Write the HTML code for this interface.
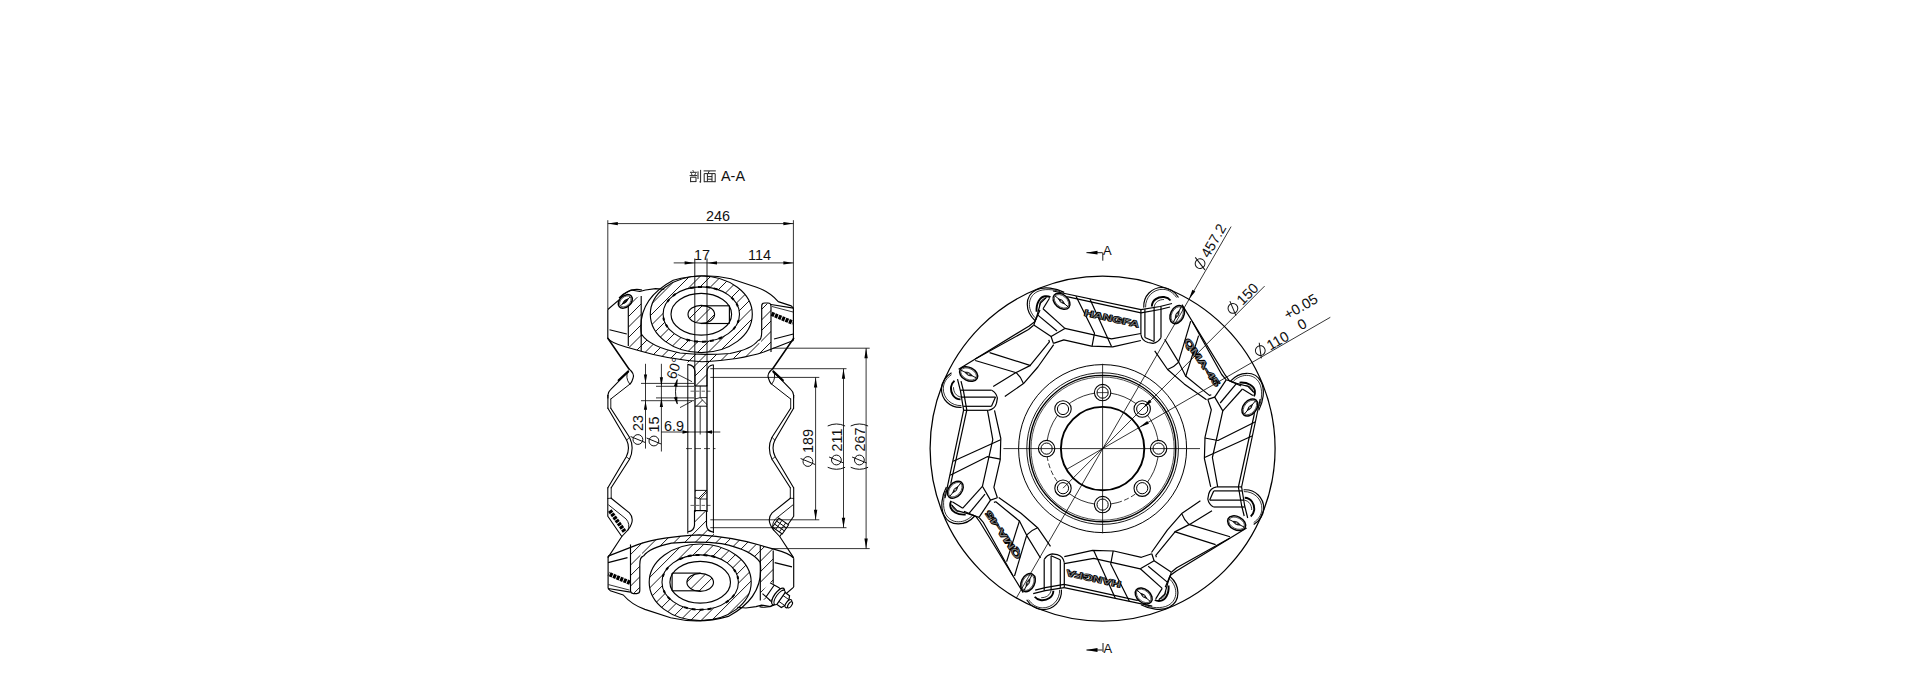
<!DOCTYPE html>
<html><head><meta charset="utf-8"><style>
html,body{margin:0;padding:0;background:#fff;}
svg{display:block;}
text{font-family:"Liberation Sans",sans-serif;}
</style></head><body>
<svg width="1920" height="694" viewBox="0 0 1920 694">
<rect width="1920" height="694" fill="#fff"/>
<circle cx="1102.6" cy="448.6" r="172.5" fill="none" stroke="#000" stroke-width="1.25" />
<circle cx="1102.6" cy="448.6" r="84" fill="none" stroke="#000" stroke-width="1" />
<circle cx="1102.6" cy="448.6" r="75.8" fill="none" stroke="#000" stroke-width="0.9" />
<circle cx="1102.6" cy="448.6" r="73.2" fill="none" stroke="#000" stroke-width="1.4" />
<circle cx="1102.6" cy="448.6" r="71.6" fill="none" stroke="#000" stroke-width="0.7" />
<path d="M 1142.2 488.2 A 56 56 0 1 0 1046.6 448.6" fill="none" stroke="#000" stroke-width="0.8"/>
<path d="M 1046.6 448.6 A 56 56 0 0 0 1063 488.2" fill="none" stroke="#000" stroke-width="0.8" stroke-dasharray="5 2.5"/>
<path d="M 1063 488.2 A 56 56 0 0 0 1117.09 502.69" fill="none" stroke="#000" stroke-width="0.8"/>
<path d="M 1117.09 502.69 A 56 56 0 0 0 1142.2 488.2" fill="none" stroke="#000" stroke-width="0.8" stroke-dasharray="5 2.5"/>
<circle cx="1102.6" cy="448.6" r="41.7" fill="none" stroke="#000" stroke-width="1.9" />
<circle cx="1158.6" cy="448.6" r="8.2" fill="#fff" stroke="#000" stroke-width="1.1" />
<circle cx="1158.6" cy="448.6" r="5.6" fill="none" stroke="#000" stroke-width="1" />
<circle cx="1142.2" cy="409" r="8.2" fill="#fff" stroke="#000" stroke-width="1.1" />
<circle cx="1142.2" cy="409" r="5.6" fill="none" stroke="#000" stroke-width="1" />
<circle cx="1102.6" cy="392.6" r="8.2" fill="#fff" stroke="#000" stroke-width="1.1" />
<circle cx="1102.6" cy="392.6" r="5.6" fill="none" stroke="#000" stroke-width="1" />
<line x1="1097" y1="392.6" x2="1108.2" y2="392.6" stroke="#000" stroke-width="0.7" />
<circle cx="1063" cy="409" r="8.2" fill="#fff" stroke="#000" stroke-width="1.1" />
<circle cx="1063" cy="409" r="5.6" fill="none" stroke="#000" stroke-width="1" />
<circle cx="1046.6" cy="448.6" r="8.2" fill="#fff" stroke="#000" stroke-width="1.1" />
<circle cx="1046.6" cy="448.6" r="5.6" fill="none" stroke="#000" stroke-width="1" />
<circle cx="1063" cy="488.2" r="8.2" fill="#fff" stroke="#000" stroke-width="1.1" />
<circle cx="1063" cy="488.2" r="5.6" fill="none" stroke="#000" stroke-width="1" />
<circle cx="1102.6" cy="504.6" r="8.2" fill="#fff" stroke="#000" stroke-width="1.1" />
<circle cx="1102.6" cy="504.6" r="5.6" fill="none" stroke="#000" stroke-width="1" />
<circle cx="1142.2" cy="488.2" r="8.2" fill="#fff" stroke="#000" stroke-width="1.1" />
<circle cx="1142.2" cy="488.2" r="5.6" fill="none" stroke="#000" stroke-width="1" />
<line x1="1003.4" y1="448.6" x2="1200" y2="448.6" stroke="#000" stroke-width="0.8" />
<line x1="1102.6" y1="363.8" x2="1102.6" y2="533.3" stroke="#000" stroke-width="0.8" />
<defs><g id="fsec"><polyline points="1053,291 1141,309.6" fill="none" stroke="#000" stroke-width="1.2" stroke-linejoin="round"/>
<polyline points="1068,296.9 1141,312.8" fill="none" stroke="#000" stroke-width="1.2" stroke-linejoin="round"/>
<polyline points="1076,296.2 1094.5,333.2 1092,346.4" fill="none" stroke="#000" stroke-width="1.2" stroke-linejoin="round"/>
<polyline points="1090,299.2 1111.5,346.6" fill="none" stroke="#000" stroke-width="1.2" stroke-linejoin="round"/>
<polyline points="1064.9,328.4 1111.5,338.8 1140.9,333.5" fill="none" stroke="#000" stroke-width="1.2" stroke-linejoin="round"/>
<polyline points="1053.4,343.4 1063.8,339.9 1091.4,346.2 1112.7,346.8 1140.9,340.5" fill="none" stroke="#000" stroke-width="1.2" stroke-linejoin="round"/>
<polyline points="1140.9,309.6 1140.9,334.5" fill="none" stroke="#000" stroke-width="1.2" stroke-linejoin="round"/>
<polyline points="1144.9,309.2 1144.9,337.5" fill="none" stroke="#000" stroke-width="1.2" stroke-linejoin="round"/>
<polyline points="1154.1,307.5 1154.1,341.5" fill="none" stroke="#000" stroke-width="1.2" stroke-linejoin="round"/>
<polyline points="1161,306.5 1161,337.6" fill="none" stroke="#000" stroke-width="1.2" stroke-linejoin="round"/>
<polyline points="1141,309.6 1160,306.5 1172,303.5" fill="none" stroke="#000" stroke-width="1.2" stroke-linejoin="round"/>
<polyline points="1141,312.8 1160,309.5 1170,307" fill="none" stroke="#000" stroke-width="1.2" stroke-linejoin="round"/>
<path d="M 1140.9 334.5 Q 1142 341 1148 342.5 L 1153 343.4 Q 1158.5 342.5 1161 337.6" fill="none" stroke="#000" stroke-width="1.2" stroke-linejoin="round"/>
<path d="M 1144.9 337.5 L 1154.1 341.5" fill="none" stroke="#000" stroke-width="1.2" stroke-linejoin="round"/>
<path d="M1143.8 307.6 C1143 296 1152 287 1163 287.5 C1170 288 1175 292 1178.5 297.5" fill="none" stroke="#000" stroke-width="1.2" stroke-linejoin="round"/>
<path d="M1145.6 307.4 C1145.2 297.5 1153 289 1163 289.3 C1169 289.6 1173.5 293 1176.5 297.5" fill="none" stroke="#000" stroke-width="0.8" stroke-linejoin="round"/>
<path d="M1151.8 306.5 C1152 300 1158 296.5 1164 297 C1167 297.5 1169 298.5 1170.5 300.5" fill="none" stroke="#000" stroke-width="1.9" stroke-linejoin="round"/>
<path d="M1154.1 307 C1155 302 1159 299.5 1164 299.5" fill="none" stroke="#000" stroke-width="0.8" stroke-linejoin="round"/>
<g transform="translate(1177.2 314.6) rotate(-63)"><ellipse cx="0" cy="0" rx="9.6" ry="6.6" fill="#fff" stroke="#000" stroke-width="1.5"/><ellipse cx="0" cy="0" rx="8.3" ry="5.4" fill="none" stroke="#000" stroke-width="0.6"/><line x1="-8.6" y1="0" x2="8.6" y2="0" stroke="#000" stroke-width="0.9"/><path d="M-4 0 Q0 -2.6 4 0 Q0 2.6 -4 0Z" fill="#333" stroke="#000" stroke-width="0.7"/><circle cx="0" cy="0" r="0.9" fill="#aaa"/></g>
<path d="M1035.2 320.7 C1025 312 1024 296 1036 290 C1044 286 1056 288 1064.2 292.4" fill="none" stroke="#000" stroke-width="1.2" stroke-linejoin="round"/>
<path d="M1036.6 319.2 C1027.2 311 1026.6 297.5 1037 291.8 C1044 288.2 1054 289.6 1060 291.6" fill="none" stroke="#000" stroke-width="0.8" stroke-linejoin="round"/>
<path d="M1036.6 311.7 C1036 303 1040 297 1045 296.3 C1047 296 1049 296.5 1050.4 297.2" fill="none" stroke="#000" stroke-width="1.9" stroke-linejoin="round"/>
<path d="M1039.4 306.2 C1039.8 301 1042 298.6 1046 298.4" fill="none" stroke="#000" stroke-width="0.8" stroke-linejoin="round"/>
<polyline points="1046.5,297.3 1040.5,303 1037.3,314.6 1033.8,325" fill="none" stroke="#000" stroke-width="1.2" stroke-linejoin="round"/>
<polyline points="1049.5,298.3 1043,308.8" fill="none" stroke="#000" stroke-width="1.2" stroke-linejoin="round"/>
<polyline points="1043,308.8 1064.9,328.4" fill="none" stroke="#000" stroke-width="1.2" stroke-linejoin="round"/>
<polyline points="1037.3,314.6 1057,331" fill="none" stroke="#000" stroke-width="1.2" stroke-linejoin="round"/>
<polyline points="1033.8,325 1051.1,336.5" fill="none" stroke="#000" stroke-width="1.2" stroke-linejoin="round"/>
<polyline points="1064.9,328.4 1051.1,336.5 1053.4,343.4" fill="none" stroke="#000" stroke-width="1.2" stroke-linejoin="round"/>
<polyline points="1060,297 1068,296.9" fill="none" stroke="#000" stroke-width="1.2" stroke-linejoin="round"/>
<g transform="translate(1061.5 301.3) rotate(40)"><ellipse cx="0" cy="0" rx="9.6" ry="6.6" fill="#fff" stroke="#000" stroke-width="1.5"/><ellipse cx="0" cy="0" rx="8.3" ry="5.4" fill="none" stroke="#000" stroke-width="0.6"/><line x1="-8.6" y1="0" x2="8.6" y2="0" stroke="#000" stroke-width="0.9"/><path d="M-4 0 Q0 -2.6 4 0 Q0 2.6 -4 0Z" fill="#333" stroke="#000" stroke-width="0.7"/><circle cx="0" cy="0" r="0.9" fill="#aaa"/></g>
<polyline points="958.6,369.2 1029.2,325.9 1035,321.6 1040,310" fill="none" stroke="#000" stroke-width="1.2" stroke-linejoin="round"/>
<polyline points="975.2,359.1 1028.5,329.5 1033.6,325.2" fill="none" stroke="#000" stroke-width="1.2" stroke-linejoin="round"/>
<polyline points="989.6,352.6 1030.7,365.6" fill="none" stroke="#000" stroke-width="1.2" stroke-linejoin="round"/>
<polyline points="975.2,360.5 1016.3,372.8" fill="none" stroke="#000" stroke-width="1.2" stroke-linejoin="round"/>
<polyline points="993.2,386.5 1015.6,372.8 1030,365.6 1049.4,341.8 1048.8,339.9" fill="none" stroke="#000" stroke-width="1.2" stroke-linejoin="round"/>
<polyline points="1004.8,396.5 1023.5,383.6 1037.9,367 1053.7,344.7" fill="none" stroke="#000" stroke-width="1.2" stroke-linejoin="round"/>
<path d="M 1016.3 372.8 Q 1021 377 1023.5 383.6" fill="none" stroke="#000" stroke-width="1.2" stroke-linejoin="round"/></g></defs>
<use href="#fsec" transform="rotate(0 1102.6 448.6)"/>
<use href="#fsec" transform="rotate(90 1102.6 448.6)"/>
<use href="#fsec" transform="rotate(180 1102.6 448.6)"/>
<use href="#fsec" transform="rotate(270 1102.6 448.6)"/>
<text x="1111" y="321.5" font-size="8.8" font-weight="bold" fill="#000" stroke="#000" stroke-width="1.2" stroke-linejoin="round" textLength="56" lengthAdjust="spacingAndGlyphs" text-anchor="middle" transform="rotate(12.3 1111 321.5)">HANGFA</text>
<text x="1111" y="321.5" font-size="8.8" font-weight="normal" fill="#fff" fill-opacity="0.5" textLength="56" lengthAdjust="spacingAndGlyphs" text-anchor="middle" transform="rotate(12.3 1111 321.5)">HANGFA</text>
<text x="1199.5" y="364.1" font-size="8.8" font-weight="bold" fill="#000" stroke="#000" stroke-width="1.2" stroke-linejoin="round" textLength="56" lengthAdjust="spacingAndGlyphs" text-anchor="middle" transform="rotate(55.5 1199.5 364.1)">QMA-45</text>
<text x="1199.5" y="364.1" font-size="8.8" font-weight="normal" fill="#fff" fill-opacity="0.5" textLength="56" lengthAdjust="spacingAndGlyphs" text-anchor="middle" transform="rotate(55.5 1199.5 364.1)">QMA-45</text>
<text x="1094.2" y="575.7" font-size="8.8" font-weight="bold" fill="#000" stroke="#000" stroke-width="1.2" stroke-linejoin="round" textLength="56" lengthAdjust="spacingAndGlyphs" text-anchor="middle" transform="rotate(192.3 1094.2 575.7)">HANGFA</text>
<text x="1094.2" y="575.7" font-size="8.8" font-weight="normal" fill="#fff" fill-opacity="0.5" textLength="56" lengthAdjust="spacingAndGlyphs" text-anchor="middle" transform="rotate(192.3 1094.2 575.7)">HANGFA</text>
<text x="1005.7" y="533.1" font-size="8.8" font-weight="bold" fill="#000" stroke="#000" stroke-width="1.2" stroke-linejoin="round" textLength="56" lengthAdjust="spacingAndGlyphs" text-anchor="middle" transform="rotate(235.5 1005.7 533.1)">QMA-45</text>
<text x="1005.7" y="533.1" font-size="8.8" font-weight="normal" fill="#fff" fill-opacity="0.5" textLength="56" lengthAdjust="spacingAndGlyphs" text-anchor="middle" transform="rotate(235.5 1005.7 533.1)">QMA-45</text>
<line x1="1016.35" y1="597.99" x2="1231.1" y2="226.6" stroke="#000" stroke-width="0.8" />
<polygon points="1188.85,299.21 1192.38,289.7 1195.32,291.4" fill="#000"/>
<line x1="1063" y1="488.2" x2="1264.6" y2="286.1" stroke="#000" stroke-width="0.8" />
<polygon points="1143.26,407.94 1149.13,399.67 1151.53,402.07" fill="#000"/>
<line x1="1066.49" y1="469.45" x2="1330.3" y2="317.3" stroke="#000" stroke-width="0.8" />
<polygon points="1139.41,427.35 1147.22,420.88 1148.92,423.82" fill="#000"/>
<g transform="translate(1202 270.5) rotate(-60)"><circle cx="5" cy="-5.1" r="4.9" fill="none" stroke="#111" stroke-width="1"/><line x1="8" y1="-12.4" x2="2" y2="2.2" stroke="#111" stroke-width="1"/><text x="13.5" y="0" font-size="14.4" fill="#111">457.2</text></g>
<g transform="translate(1233 315.5) rotate(-45)"><circle cx="5" cy="-5.1" r="4.9" fill="none" stroke="#111" stroke-width="1"/><line x1="8" y1="-12.4" x2="2" y2="2.2" stroke="#111" stroke-width="1"/><text x="13.5" y="0" font-size="14.4" fill="#111">150</text></g>
<g transform="translate(1258.5 357.5) rotate(-30)"><circle cx="5" cy="-5.1" r="4.9" fill="none" stroke="#111" stroke-width="1"/><line x1="8" y1="-12.4" x2="2" y2="2.2" stroke="#111" stroke-width="1"/><text x="13.5" y="0" font-size="14.4" fill="#111">110</text></g>
<g transform="translate(1301 330.5) rotate(-30)"><text x="0" y="0" font-size="14.4" fill="#111">0</text></g>
<g transform="translate(1287.5 320) rotate(-30)"><text x="0" y="0" font-size="14.4" fill="#111">+0.05</text></g>
<line x1="1086.5" y1="252.7" x2="1102.5" y2="252.7" stroke="#000" stroke-width="0.9" />
<polygon points="1086,252.7 1097.5,250.8 1097.5,254.6" fill="#000"/>
<line x1="1102.8" y1="252.7" x2="1102.8" y2="260.7" stroke="#000" stroke-width="0.9" />
<text x="1103" y="254.8" font-size="13" text-anchor="start" font-weight="normal" fill="#111" >A</text>
<line x1="1086.5" y1="650" x2="1102.5" y2="650" stroke="#000" stroke-width="0.9" />
<polygon points="1086,650 1097.5,648.1 1097.5,651.9" fill="#000"/>
<line x1="1103" y1="643" x2="1103" y2="652" stroke="#000" stroke-width="0.9" />
<text x="1103.5" y="652.5" font-size="13" text-anchor="start" font-weight="normal" fill="#111" >A</text>
<text x="721" y="181.4" font-size="14.4" text-anchor="start" font-weight="normal" fill="#111" >A-A</text>
<line x1="692.8" y1="170.2" x2="693.6" y2="171.6" stroke="#222" stroke-width="1.0"/>
<line x1="690" y1="172.3" x2="696.8" y2="172.3" stroke="#222" stroke-width="1.0"/>
<line x1="691.4" y1="173.3" x2="692" y2="175" stroke="#222" stroke-width="1.0"/>
<line x1="695.6" y1="173.3" x2="694.8" y2="175" stroke="#222" stroke-width="1.0"/>
<line x1="689.6" y1="175.6" x2="697.2" y2="175.6" stroke="#222" stroke-width="1.0"/>
<line x1="690.6" y1="177.2" x2="690.6" y2="182.2" stroke="#222" stroke-width="1.0"/>
<line x1="690.6" y1="177.2" x2="696" y2="177.2" stroke="#222" stroke-width="1.0"/>
<line x1="696" y1="177.2" x2="696" y2="182" stroke="#222" stroke-width="1.0"/>
<line x1="690.6" y1="181.6" x2="696" y2="181.6" stroke="#222" stroke-width="1.0"/>
<line x1="698" y1="171.4" x2="698" y2="179" stroke="#222" stroke-width="1.0"/>
<line x1="700.6" y1="169.9" x2="700.6" y2="182.4" stroke="#222" stroke-width="1.0"/>
<line x1="700.6" y1="182.4" x2="699.4" y2="181.8" stroke="#222" stroke-width="1.0"/>
<line x1="703.6" y1="170.9" x2="715.8" y2="170.9" stroke="#222" stroke-width="1.0"/>
<line x1="709.2" y1="171" x2="708.2" y2="173.4" stroke="#222" stroke-width="1.0"/>
<line x1="704.2" y1="173.6" x2="704.2" y2="182.2" stroke="#222" stroke-width="1.0"/>
<line x1="704.2" y1="173.6" x2="715.2" y2="173.6" stroke="#222" stroke-width="1.0"/>
<line x1="715.2" y1="173.6" x2="715.2" y2="182.2" stroke="#222" stroke-width="1.0"/>
<line x1="704.2" y1="181.7" x2="715.2" y2="181.7" stroke="#222" stroke-width="1.0"/>
<line x1="707.4" y1="173.8" x2="707.4" y2="181.6" stroke="#222" stroke-width="1.0"/>
<line x1="712" y1="173.8" x2="712" y2="181.6" stroke="#222" stroke-width="1.0"/>
<line x1="707.4" y1="176.6" x2="712" y2="176.6" stroke="#222" stroke-width="1.0"/>
<line x1="707.4" y1="179.2" x2="712" y2="179.2" stroke="#222" stroke-width="1.0"/>
<line x1="607.8" y1="220.2" x2="607.8" y2="309.5" stroke="#000" stroke-width="0.8" />
<line x1="793.4" y1="220.2" x2="793.4" y2="308" stroke="#000" stroke-width="0.8" />
<line x1="607.8" y1="223.6" x2="793.4" y2="223.6" stroke="#000" stroke-width="0.8" />
<polygon points="607.8,223.6 617.8,221.9 617.8,225.3" fill="#000"/>
<polygon points="793.4,223.6 783.4,225.3 783.4,221.9" fill="#000"/>
<g transform="translate(706 221) rotate(0)"><text x="0" y="0" font-size="14.4" fill="#111">246</text></g>
<line x1="694.8" y1="258.5" x2="694.8" y2="386" stroke="#000" stroke-width="0.9" />
<line x1="707" y1="258.5" x2="707" y2="386" stroke="#000" stroke-width="0.9" />
<line x1="673.7" y1="262.9" x2="793.4" y2="262.9" stroke="#000" stroke-width="0.8" />
<polygon points="694.6,262.9 684.6,264.6 684.6,261.2" fill="#000"/>
<polygon points="707,262.9 717,261.2 717,264.6" fill="#000"/>
<polygon points="793.4,262.9 783.4,264.6 783.4,261.2" fill="#000"/>
<g transform="translate(694 259.9) rotate(0)"><text x="0" y="0" font-size="14.4" fill="#111">17</text></g>
<g transform="translate(748 259.9) rotate(0)"><text x="0" y="0" font-size="14.4" fill="#111">114</text></g>
<g id="rollTop"><clipPath id="hclip"><path clip-rule="evenodd" d="M650.3 314.3A51 38.3 0 1 0 752.3 314.3A51 38.3 0 1 0 650.3 314.3Z M663.1 314.3A38.2 27.4 0 1 0 739.5 314.3A38.2 27.4 0 1 0 663.1 314.3Z"/><path d="M688 314.3A13.3 9 0 1 0 714.6 314.3A13.3 9 0 1 0 688 314.3Z"/><path d="M641.5 334.3 Q650 347 680 353 Q702 355.6 730 353.5 Q752 349 758 340.5 L763.8 352 Q740 360 702 361.7 Q668 360 641.2 351.3 L626.8 347 Z"/><path d="M628.3 299.4 L641.2 296 L641.2 351.3 L628.3 346 Z"/><path d="M761.7 303 L771 304 L771 352 L758 354 Q761.7 345 761.7 331.9 Z"/><path d="M687.6 356 L713.5 356 L713.5 364.8 Q707.4 365.5 707 371.5 L707 386 L695 386 L695 371.5 Q694.6 365.2 687.6 364.4 Z"/></clipPath>
<path clip-path="url(#hclip)" d="M461 400L591 270M471.5 400L601.5 270M482 400L612 270M492.5 400L622.5 270M503 400L633 270M513.5 400L643.5 270M524 400L654 270M534.5 400L664.5 270M545 400L675 270M555.5 400L685.5 270M566 400L696 270M576.5 400L706.5 270M587 400L717 270M597.5 400L727.5 270M608 400L738 270M618.5 400L748.5 270M629 400L759 270M639.5 400L769.5 270M650 400L780 270M660.5 400L790.5 270M671 400L801 270M681.5 400L811.5 270M692 400L822 270M702.5 400L832.5 270M713 400L843 270M723.5 400L853.5 270M734 400L864 270M744.5 400L874.5 270M755 400L885 270M765.5 400L895.5 270M776 400L906 270M786.5 400L916.5 270M797 400L927 270M807.5 400L937.5 270" stroke="#000" stroke-width="0.9" fill="none"/>
<ellipse cx="701.3" cy="314.3" rx="51" ry="38.3" transform="rotate(0 701.3 314.3)" fill="none" stroke="#000" stroke-width="1.15"/>
<ellipse cx="701.3" cy="314.3" rx="38.2" ry="27.4" transform="rotate(0 701.3 314.3)" fill="none" stroke="#000" stroke-width="1.1"/>
<ellipse cx="701.3" cy="314.3" rx="30.3" ry="20.9" transform="rotate(0 701.3 314.3)" fill="none" stroke="#000" stroke-width="1.15"/>
<ellipse cx="701.3" cy="314.3" rx="13.3" ry="9" transform="rotate(0 701.3 314.3)" fill="none" stroke="#000" stroke-width="1.15"/>
<polyline points="701,305.8 729.4,305.8" fill="none" stroke="#000" stroke-width="1.15" stroke-linejoin="round"/>
<polyline points="701,323.5 729.4,323.5" fill="none" stroke="#000" stroke-width="1.15" stroke-linejoin="round"/>
<polyline points="729.4,305.8 729.4,323.5" fill="none" stroke="#000" stroke-width="1.15" stroke-linejoin="round"/>
<path d="M717.44 289.47A38.2 27.4 0 0 0 713.74 288.39" fill="none" stroke="#000" stroke-width="2"/>
<path d="M709.89 287.6A38.2 27.4 0 0 0 705.96 287.1" fill="none" stroke="#000" stroke-width="2"/>
<path d="M701.97 286.9A38.2 27.4 0 0 0 697.97 287" fill="none" stroke="#000" stroke-width="2"/>
<path d="M694.01 287.4A38.2 27.4 0 0 0 690.13 288.1" fill="none" stroke="#000" stroke-width="2"/>
<path d="M675.74 293.94A38.2 27.4 0 0 0 672.91 295.97" fill="none" stroke="#000" stroke-width="2"/>
<path d="M669.26 299.38A38.2 27.4 0 0 0 667.26 301.86" fill="none" stroke="#000" stroke-width="2"/>
<path d="M663.38 317.64A38.2 27.4 0 0 0 664.08 320.46" fill="none" stroke="#000" stroke-width="2"/>
<path d="M665.88 324.56A38.2 27.4 0 0 0 667.57 327.16" fill="none" stroke="#000" stroke-width="2"/>
<path d="M686.37 339.52A38.2 27.4 0 0 0 690.13 340.5" fill="none" stroke="#000" stroke-width="2"/>
<path d="M694.01 341.2A38.2 27.4 0 0 0 697.97 341.6" fill="none" stroke="#000" stroke-width="2"/>
<path d="M701.97 341.7A38.2 27.4 0 0 0 705.96 341.5" fill="none" stroke="#000" stroke-width="2"/>
<path d="M709.89 341A38.2 27.4 0 0 0 713.74 340.21" fill="none" stroke="#000" stroke-width="2"/>
<path d="M718.64 338.71A38.2 27.4 0 0 0 722.11 337.28" fill="none" stroke="#000" stroke-width="2"/>
<path d="M733.34 329.22A38.2 27.4 0 0 0 735.34 326.74" fill="none" stroke="#000" stroke-width="2"/>
<path d="M737.63 322.77A38.2 27.4 0 0 0 738.67 320" fill="none" stroke="#000" stroke-width="2"/>
<path d="M737.83 306.29A38.2 27.4 0 0 0 736.46 303.59" fill="none" stroke="#000" stroke-width="2"/>
<path d="M733.7 299.78A38.2 27.4 0 0 0 731.4 297.43" fill="none" stroke="#000" stroke-width="2"/>
<polyline points="607.8,309.5 619.6,299.4 624,294 631.1,290 639.8,291.5 645.5,290 655.6,288.6 664.3,289.3" fill="none" stroke="#000" stroke-width="1.15" stroke-linejoin="round"/>
<path d="M641.5 336 Q636 300 673.2 280.2 Q702 272 730.9 278.8 L756.6 287.2 Q770 292 778.2 301.6 L791.2 305.9 L793.4 308.1" fill="none" stroke="#000" stroke-width="1.15" stroke-linejoin="round" />
<path d="M641.5 334.3 Q650 347 680 353 Q702 355.6 730 353.5 Q752 349 758 340.5" fill="none" stroke="#000" stroke-width="1.15" stroke-linejoin="round" />
<path d="M607.8 338.3 Q611 343 626 347 L641.2 351.3 Q668 359.5 702 361.7 Q740 360 763.8 352 L793.4 340.5" fill="none" stroke="#000" stroke-width="1.15" stroke-linejoin="round" />
<polyline points="607.8,309.5 607.8,338.3" fill="none" stroke="#000" stroke-width="1.15" stroke-linejoin="round"/>
<polyline points="609.5,329.7 626.8,334" fill="none" stroke="#000" stroke-width="1.15" stroke-linejoin="round"/>
<polyline points="628.3,299.4 628.3,346" fill="none" stroke="#000" stroke-width="1.15" stroke-linejoin="round"/>
<polyline points="641.2,296 641.2,351.3" fill="none" stroke="#000" stroke-width="1.15" stroke-linejoin="round"/>
<ellipse cx="625.3" cy="301.4" rx="8" ry="5.6" transform="rotate(-42 625.3 301.4)" fill="#fff" stroke="#000" stroke-width="1.5"/>
<ellipse cx="625.3" cy="301.4" rx="6.6" ry="4.4" transform="rotate(-42 625.3 301.4)" fill="none" stroke="#000" stroke-width="0.6"/>
<g transform="translate(625.3 301.4) rotate(-42)"><path d="M-4 0 Q0 -2.4 4 0 Q0 2.4 -4 0Z" fill="#333" stroke="#000" stroke-width="0.8"/><line x1="-6.5" y1="0" x2="6.5" y2="0" stroke="#000" stroke-width="0.9"/></g>
<path d="M619 298 Q630 287 642 290" fill="none" stroke="#000" stroke-width="1.15" stroke-linejoin="round" />
<path d="M771 352 L771 306 Q771 303 768 303 L764.7 303 Q761.7 303 761.7 306 L761.7 331.9 Q761.7 340 758 340.5" fill="none" stroke="#000" stroke-width="1.15" stroke-linejoin="round" />
<polyline points="771,304.5 793.4,308.1" fill="none" stroke="#000" stroke-width="1.15" stroke-linejoin="round"/>
<polyline points="774,339 793.4,334" fill="none" stroke="#000" stroke-width="1.15" stroke-linejoin="round"/>
<polyline points="793.4,308.1 793.4,340.5" fill="none" stroke="#000" stroke-width="1.15" stroke-linejoin="round"/>
<path d="M771.5 313.8 L793 322.8" stroke="#000" stroke-width="4.4" stroke-dasharray="3 0.8" fill="none"/>
<path d="M772 306.5 L793 312" stroke="#000" stroke-width="0.8" fill="none"/>
<path d="M695 386 L695 371.5 Q694.6 365.2 687.6 364.4" fill="none" stroke="#000" stroke-width="1.15" stroke-linejoin="round" />
<path d="M707 386 L707 371.5 Q707.4 365.5 713.5 364.8" fill="none" stroke="#000" stroke-width="1.15" stroke-linejoin="round" />
<polyline points="695.2,386 707.3,386" fill="none" stroke="#000" stroke-width="1.15" stroke-linejoin="round"/></g>
<use href="#rollTop" transform="rotate(180 700.75 448.3)"/>
<line x1="687.8" y1="364.4" x2="687.8" y2="533.6" stroke="#000" stroke-width="1.0" />
<line x1="713.4" y1="364.8" x2="713.4" y2="533.2" stroke="#000" stroke-width="1.0" />
<line x1="695" y1="386" x2="695" y2="512" stroke="#000" stroke-width="1.3" />
<line x1="707" y1="386" x2="707" y2="512" stroke="#000" stroke-width="1.3" />
<line x1="700.2" y1="406.2" x2="700.2" y2="434.5" stroke="#000" stroke-width="0.8" />
<line x1="686" y1="448.6" x2="715.5" y2="448.6" stroke="#000" stroke-width="0.7" stroke-dasharray="6 3"/>
<line x1="695" y1="406.2" x2="707" y2="406.2" stroke="#000" stroke-width="0.9" />
<line x1="700.2" y1="386" x2="700.2" y2="397.6" stroke="#000" stroke-width="0.8" />
<line x1="695" y1="399" x2="700.2" y2="397.6" stroke="#000" stroke-width="0.8" />
<line x1="700.2" y1="397.6" x2="707" y2="404.7" stroke="#000" stroke-width="0.8" />
<line x1="700.2" y1="397.6" x2="707" y2="397.6" stroke="#000" stroke-width="0.8" />
<line x1="690.5" y1="391.2" x2="711.5" y2="391.2" stroke="#000" stroke-width="0.6" stroke-dasharray="3.5 2"/>
<path clip-path="url(#hclip2)" d="M669.5 412L686.5 395M680 412L697 395M690.5 412L707.5 395M701 412L718 395M711.5 412L728.5 395M722 412L739 395" stroke="#000" stroke-width="0.9" fill="none"/>
<line x1="695" y1="490.4" x2="707" y2="490.4" stroke="#000" stroke-width="0.9" />
<line x1="700.2" y1="510.6" x2="700.2" y2="499" stroke="#000" stroke-width="0.8" />
<line x1="695" y1="497.6" x2="700.2" y2="499" stroke="#000" stroke-width="0.8" />
<line x1="700.2" y1="499" x2="707" y2="491.9" stroke="#000" stroke-width="0.8" />
<line x1="700.2" y1="499" x2="707" y2="499" stroke="#000" stroke-width="0.8" />
<line x1="690.5" y1="505.4" x2="711.5" y2="505.4" stroke="#000" stroke-width="0.6" stroke-dasharray="3.5 2"/>
<path clip-path="url(#hclip2)" d="M663.9 501.6L680.9 484.6M674.4 501.6L691.4 484.6M684.9 501.6L701.9 484.6M695.4 501.6L712.4 484.6M705.9 501.6L722.9 484.6M716.4 501.6L733.4 484.6" stroke="#000" stroke-width="0.9" fill="none"/>
<clipPath id="hclip2"><path d="M695 399 L700.2 397.6 L707 404.7 L707 406.2 L695 406.2 Z"/><path d="M695 497.6 L700.2 499 L707 491.9 L707 490.4 L695 490.4 Z"/></clipPath>
<g id="profL"><path d="M607.8 338.3 L628.8 368.7" fill="none" stroke="#000" stroke-width="1.5" stroke-linejoin="round" stroke-linecap="round"/><path d="M628.8 368.7 Q634.8 373.5 633.1 378 Q632 382 630.3 383.8" fill="none" stroke="#000" stroke-width="1.1" stroke-linejoin="round" stroke-linecap="round"/><path d="M628.1 370.8 Q624.8 377.5 629.5 383.8" fill="none" stroke="#000" stroke-width="0.9" stroke-linejoin="round" stroke-linecap="round"/><path d="M618.7 380.2 L628.1 371.6" fill="none" stroke="#000" stroke-width="2.2" stroke-linejoin="round" stroke-linecap="round"/><path d="M607.9 398 L607.9 395.3 Q608.3 391.5 610.6 389.6 L628.1 371.6" fill="none" stroke="#000" stroke-width="1.1" stroke-linejoin="round" stroke-linecap="round"/><path d="M610.8 399 L630.3 383.8" fill="none" stroke="#000" stroke-width="1.0" stroke-linejoin="round" stroke-linecap="round"/><path d="M607.9 395.3 L607.9 408.2" fill="none" stroke="#000" stroke-width="1.1" stroke-linejoin="round" stroke-linecap="round"/><path d="M610.8 399 L610.8 408.2" fill="none" stroke="#000" stroke-width="0.9" stroke-linejoin="round" stroke-linecap="round"/><path d="M607.9 408.2 L626.7 440.2 Q630.5 448 626.3 456.7 L607.9 487.8" fill="none" stroke="#000" stroke-width="1.1" stroke-linejoin="round" stroke-linecap="round"/><path d="M610.8 408.2 L629.5 437.3 Q634.8 448 629.5 459.3 L611.2 487.8" fill="none" stroke="#000" stroke-width="1.1" stroke-linejoin="round" stroke-linecap="round"/><path d="M626.7 440.2 L629.5 437.3" fill="none" stroke="#000" stroke-width="0.8" stroke-linejoin="round" stroke-linecap="round"/><path d="M626.3 456.7 L629.5 459.3" fill="none" stroke="#000" stroke-width="0.8" stroke-linejoin="round" stroke-linecap="round"/><path d="M607.8 487.8 L607.8 516.3 L621.8 536.5 L608.1 557.4" fill="none" stroke="#000" stroke-width="1.1" stroke-linejoin="round" stroke-linecap="round"/><path d="M611.2 487.8 L611.2 498.2" fill="none" stroke="#000" stroke-width="0.9" stroke-linejoin="round" stroke-linecap="round"/><path d="M607.8 498.5 L611.2 498.2" fill="none" stroke="#000" stroke-width="0.8" stroke-linejoin="round" stroke-linecap="round"/><path d="M611.2 498.2 L629.4 512.9 Q635.5 519.5 628.5 529.3 L621.8 536.5" fill="none" stroke="#000" stroke-width="1.1" stroke-linejoin="round" stroke-linecap="round"/><path d="M608.7 505 L626 518.9 Q630.5 524 628 530" fill="none" stroke="#000" stroke-width="0.9" stroke-linejoin="round" stroke-linecap="round"/></g>
<use href="#profL" transform="matrix(-1 0 0 1 1401.5 0)"/>
<path d="M609.8 510.5 L624.5 531.5" stroke="#000" stroke-width="4.2" stroke-dasharray="3 0.8" fill="none"/>
<g transform="translate(780.5 526) rotate(35)"><rect x="-6" y="-5.5" width="12" height="11" fill="#fff" stroke="#000" stroke-width="1"/><line x1="-6" y1="-1.8" x2="6" y2="-1.8" stroke="#000" stroke-width="0.9"/><line x1="-6" y1="1.8" x2="6" y2="1.8" stroke="#000" stroke-width="0.9"/><line x1="-2" y1="-5.5" x2="-2" y2="5.5" stroke="#000" stroke-width="0.8"/><line x1="2.5" y1="-5.5" x2="2.5" y2="5.5" stroke="#000" stroke-width="0.8"/></g>
<line x1="772.8" y1="348.2" x2="869.7" y2="348.2" stroke="#000" stroke-width="0.8" />
<line x1="772" y1="548.6" x2="869.7" y2="548.6" stroke="#000" stroke-width="0.8" />
<line x1="866.1" y1="348.2" x2="866.1" y2="548.6" stroke="#000" stroke-width="0.8" />
<polygon points="866.1,348.2 867.8,358.2 864.4,358.2" fill="#000"/>
<polygon points="866.1,548.6 864.4,538.6 867.8,538.6" fill="#000"/>
<line x1="710.3" y1="368.7" x2="846.5" y2="368.7" stroke="#000" stroke-width="0.8" />
<line x1="710.3" y1="527.7" x2="846.5" y2="527.7" stroke="#000" stroke-width="0.8" />
<line x1="843.5" y1="368.7" x2="843.5" y2="527.7" stroke="#000" stroke-width="0.8" />
<polygon points="843.5,368.7 845.2,378.7 841.8,378.7" fill="#000"/>
<polygon points="843.5,527.7 841.8,517.7 845.2,517.7" fill="#000"/>
<line x1="710.3" y1="377.4" x2="819.3" y2="377.4" stroke="#000" stroke-width="0.8" />
<line x1="710.3" y1="519.8" x2="819.3" y2="519.8" stroke="#000" stroke-width="0.8" />
<line x1="815.6" y1="377.4" x2="815.6" y2="519.8" stroke="#000" stroke-width="0.8" />
<polygon points="815.6,377.4 817.3,387.4 813.9,387.4" fill="#000"/>
<polygon points="815.6,519.8 813.9,509.8 817.3,509.8" fill="#000"/>
<g transform="translate(813 466.5) rotate(-90)"><circle cx="5" cy="-5.1" r="4.9" fill="none" stroke="#111" stroke-width="1"/><line x1="8" y1="-12.4" x2="2" y2="2.2" stroke="#111" stroke-width="1"/><text x="13.5" y="0" font-size="14.4" fill="#111">189</text></g>
<g transform="translate(841.5 470.5) rotate(-90)"><path d="M3.2 -13.8 Q-0.8 -5 3.2 3.6" fill="none" stroke="#111" stroke-width="1"/><circle cx="10.5" cy="-5.1" r="4.9" fill="none" stroke="#111" stroke-width="1"/><line x1="13.5" y1="-12.4" x2="7.5" y2="2.2" stroke="#111" stroke-width="1"/><text x="19" y="0" font-size="14.4" fill="#111">211</text><path d="M44.52 -13.8 Q48.52 -5 44.52 3.6" fill="none" stroke="#111" stroke-width="1"/></g>
<g transform="translate(864.5 470.5) rotate(-90)"><path d="M3.2 -13.8 Q-0.8 -5 3.2 3.6" fill="none" stroke="#111" stroke-width="1"/><circle cx="10.5" cy="-5.1" r="4.9" fill="none" stroke="#111" stroke-width="1"/><line x1="13.5" y1="-12.4" x2="7.5" y2="2.2" stroke="#111" stroke-width="1"/><text x="19" y="0" font-size="14.4" fill="#111">267</text><path d="M44.52 -13.8 Q48.52 -5 44.52 3.6" fill="none" stroke="#111" stroke-width="1"/></g>
<line x1="645.5" y1="363.8" x2="645.5" y2="448.6" stroke="#000" stroke-width="0.8" />
<polygon points="645.5,383.4 643.9,374.4 647.1,374.4" fill="#000"/>
<polygon points="645.5,400.7 647.1,409.7 643.9,409.7" fill="#000"/>
<line x1="661.4" y1="363.8" x2="661.4" y2="451.5" stroke="#000" stroke-width="0.8" />
<polygon points="661.4,386.3 659.8,377.3 663,377.3" fill="#000"/>
<polygon points="661.4,397.9 663,406.9 659.8,406.9" fill="#000"/>
<line x1="641" y1="383.4" x2="694" y2="383.4" stroke="#000" stroke-width="0.8" />
<line x1="641" y1="400.7" x2="694" y2="400.7" stroke="#000" stroke-width="0.8" />
<line x1="656" y1="386.3" x2="694" y2="386.3" stroke="#000" stroke-width="0.8" />
<line x1="656" y1="397.9" x2="694" y2="397.9" stroke="#000" stroke-width="0.8" />
<g transform="translate(643 444.5) rotate(-90)"><circle cx="5" cy="-5.1" r="4.9" fill="none" stroke="#111" stroke-width="1"/><line x1="8" y1="-12.4" x2="2" y2="2.2" stroke="#111" stroke-width="1"/><text x="13.5" y="0" font-size="14.4" fill="#111">23</text></g>
<g transform="translate(659 446) rotate(-90)"><circle cx="5" cy="-5.1" r="4.9" fill="none" stroke="#111" stroke-width="1"/><line x1="8" y1="-12.4" x2="2" y2="2.2" stroke="#111" stroke-width="1"/><text x="13.5" y="0" font-size="14.4" fill="#111">15</text></g>
<g transform="translate(664 430.5) rotate(0)"><text x="0" y="0" font-size="14.4" fill="#111">6.9</text></g>
<line x1="661.4" y1="432" x2="720.3" y2="432" stroke="#000" stroke-width="0.8" />
<polygon points="689.5,432 682.5,433.7 682.5,430.3" fill="#000"/>
<polygon points="705,432 712,430.3 712,433.7" fill="#000"/>
<text x="675.5" y="380" font-size="14.2" text-anchor="start" font-weight="normal" fill="#111" transform="rotate(-72 675.5 380)" >60°</text>
<path d="M677.4 379.5 Q673.6 391.8 677.4 404" fill="none" stroke="#000" stroke-width="0.9"/>
<polygon points="677.2,379 677.4,386.71 673.88,385.96" fill="#000"/>
<polygon points="677.2,404.5 673.88,397.54 677.4,396.79" fill="#000"/>
<line x1="677.9" y1="374.5" x2="692" y2="381.7" stroke="#000" stroke-width="0.8" />
<line x1="680" y1="407.6" x2="692" y2="401.2" stroke="#000" stroke-width="0.8" />
<g transform="translate(781.0 598.5) rotate(35) scale(1.2)"><rect x="-16" y="-6.5" width="10" height="13" fill="#fff" stroke="none"/><path d="M-15 -5.5 L-6 -6.5 M-15 5.5 L-6 6.5 M-11 -6 L-11 6" fill="none" stroke="#000" stroke-width="0.9"/><ellipse cx="-3" cy="0" rx="3.2" ry="8.2" fill="#fff" stroke="#000" stroke-width="1.1"/><ellipse cx="-1.5" cy="0" rx="2.8" ry="7.2" fill="#fff" stroke="#000" stroke-width="0.9"/><path d="M0 -6 L4.5 -6 L6 -3 L6 3 L4.5 6 L0 6 Z" fill="#fff" stroke="#000" stroke-width="1"/><line x1="0" y1="-3" x2="6" y2="-3" stroke="#000" stroke-width="0.7"/><line x1="0" y1="3" x2="6" y2="3" stroke="#000" stroke-width="0.7"/><ellipse cx="7.5" cy="0" rx="1.8" ry="4" fill="#fff" stroke="#000" stroke-width="0.9"/><ellipse cx="9.2" cy="0" rx="1.4" ry="3" fill="#fff" stroke="#000" stroke-width="0.9"/></g>
</svg></body></html>
